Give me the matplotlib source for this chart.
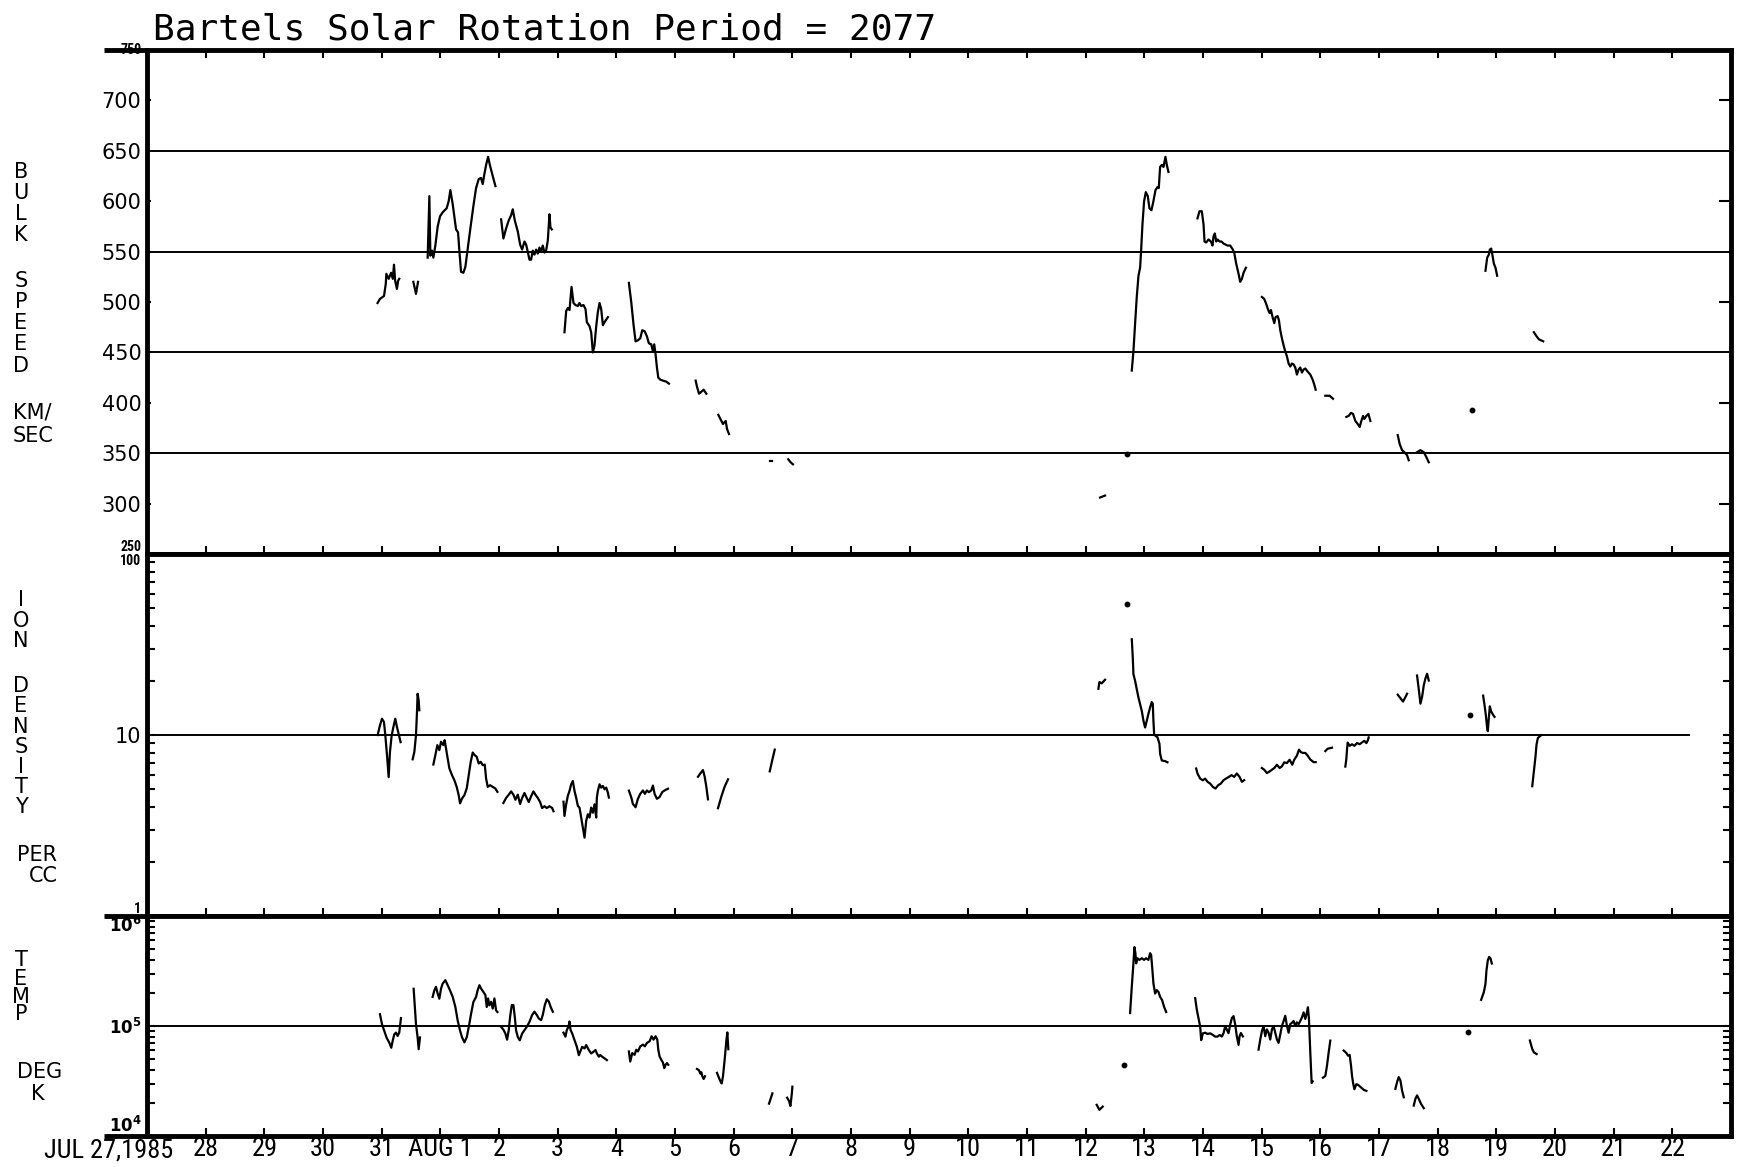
import numpy as np
import matplotlib
matplotlib.use("Agg")
import matplotlib.pyplot as plt
from matplotlib import font_manager as fm
from matplotlib.ticker import LogLocator, NullFormatter, FixedLocator
import matplotlib.transforms as mtransforms

# ---------------- DATA (days since 1985 Jul 27 00:00) ----------------
title = "Bartels Solar Rotation Period = 2077"
day_labels = ["", "28", "29", "30", "31", "AUG 1", "2", "3", "4", "5", "6", "7", "8",
              "9", "10", "11", "12", "13", "14", "15", "16", "17", "18", "19", "20",
              "21", "22", ""]
first_label = "JUL 27,1985"

speed_ref = [350, 450, 550, 650]
speed_ticks = [250, 300, 350, 400, 450, 500, 550, 600, 650, 700, 750]
speed_right_ticks = [300, 400, 500, 600, 700]
dens_ref = 10
temp_ref = 1e5

speed_days = [
    [3.93, 3.97, 4.04, 4.07, 4.08, 4.12, 4.16, 4.19, 4.21, 4.23, 4.26, 4.28, 4.30],
    [4.54, 4.585, 4.62],
    [4.784, 4.813, 4.830, 4.858, 4.881, 4.915, 4.955, 4.995, 5.040, 5.108, 5.142, 5.171, 5.211, 5.268, 5.302, 5.324,
     5.353, 5.393, 5.427, 5.467, 5.512, 5.563, 5.609, 5.654, 5.694, 5.722, 5.745, 5.780, 5.814, 5.848, 5.893, 5.939],
    [6.036, 6.075, 6.121, 6.166, 6.206, 6.235, 6.269, 6.320, 6.360, 6.394, 6.434, 6.462, 6.490, 6.519, 6.547, 6.576,
     6.604, 6.633, 6.661, 6.690, 6.718, 6.746, 6.775, 6.803, 6.832, 6.860, 6.877, 6.900],
    [7.116, 7.145, 7.173, 7.202, 7.236, 7.270, 7.304, 7.344, 7.372, 7.400, 7.440, 7.475, 7.497, 7.543, 7.571, 7.600,
     7.628, 7.657, 7.685, 7.714, 7.742, 7.771, 7.799, 7.856],
    [8.214, 8.254, 8.294, 8.328, 8.368, 8.408, 8.442, 8.482, 8.521, 8.555, 8.595, 8.624, 8.646, 8.669, 8.692, 8.715,
     8.749, 8.794, 8.851, 8.897],
    [9.352, 9.375, 9.409, 9.449, 9.489, 9.534],
    [9.739, 9.773, 9.818, 9.864, 9.887, 9.921],
    [10.62, 10.66],
    [10.93, 10.97, 11.01],
    [16.245, 16.33],
    [16.786, 16.814, 16.843, 16.871, 16.900, 16.928, 16.945, 16.968, 16.996, 17.025, 17.059, 17.087, 17.121, 17.155,
     17.190, 17.224, 17.246, 17.269, 17.298, 17.326, 17.360, 17.383, 17.411],
    [17.906, 17.940, 17.980, 18.009, 18.026, 18.054, 18.094, 18.134, 18.162, 18.179, 18.202, 18.225, 18.248, 18.282,
     18.316, 18.350, 18.384, 18.418, 18.464, 18.509, 18.532, 18.566, 18.606, 18.634, 18.663, 18.691, 18.731],
    [19.004, 19.044, 19.078, 19.106, 19.135, 19.158, 19.186, 19.215, 19.237, 19.272, 19.294, 19.317, 19.345, 19.374,
     19.402, 19.431, 19.459, 19.488, 19.516, 19.544, 19.573, 19.601, 19.630, 19.658, 19.687, 19.715, 19.744, 19.783,
     19.829, 19.869, 19.897, 19.920],
    [20.085, 20.159, 20.216],
    [20.443, 20.483, 20.523, 20.557, 20.597, 20.637, 20.671, 20.694, 20.728, 20.750, 20.785, 20.819, 20.853],
    [21.319, 21.353, 21.393, 21.433, 21.478, 21.507],
    [21.649, 21.706, 21.763, 21.808, 21.848],
    [22.815, 22.844, 22.872, 22.889, 22.912, 22.935, 22.958, 22.986, 23.014],
    [23.640, 23.686, 23.725, 23.799],
]
speed_kms = [
    [499, 503, 506, 518, 528, 523, 529, 523, 537, 521, 513, 521, 523],
    [520, 508, 520],
    [544, 605, 546, 551, 544, 556, 575, 585, 589, 593, 600, 611, 597, 572, 569, 551,
     530, 529, 535, 553, 573, 595, 613, 622, 623, 617, 625, 636, 644, 635, 625, 615],
    [582, 563, 573, 581, 586, 592, 581, 570, 557, 552, 560, 557, 550, 542, 542, 551,
     547, 552, 548, 554, 550, 556, 549, 551, 561, 587, 574, 572],
    [470, 491, 494, 492, 515, 499, 497, 496, 499, 496, 497, 493, 480, 476, 470, 450,
     457, 476, 490, 499, 493, 477, 480, 485],
    [519, 500, 477, 461, 462, 464, 472, 471, 466, 459, 458, 451, 458, 448, 435, 425,
     423, 422, 421, 419],
    [422, 416, 409, 411, 413, 409],
    [388, 384, 379, 382, 374, 369],
    [342, 342],
    [344, 341, 339],
    [306, 308],
    [432, 451, 479, 505, 526, 534, 551, 577, 600, 609, 605, 593, 591, 600,
     611, 614, 613, 634, 636, 634, 644, 636, 629],
    [583, 590, 590, 577, 560, 559, 562, 560, 556, 565, 568, 560, 562, 560,
     560, 558, 557, 556, 556, 552, 549, 538, 528, 520, 523, 529, 534],
    [505, 503, 498, 493, 489, 492, 485, 479, 485, 486, 482, 472, 464, 457,
     451, 446, 439, 436, 439, 438, 435, 428, 433, 435, 430, 433, 434, 431,
     428, 423, 418, 413],
    [407, 407, 404],
    [386, 387, 390, 389, 382, 379, 376, 381, 387, 384, 387, 389, 382],
    [368, 359, 353, 351, 348, 343],
    [351, 353, 351, 346, 341],
    [531, 544, 547, 552, 553, 546, 538, 534, 526],
    [470, 466, 463, 461],
]
speed_dot_days = [16.70, 22.588]
speed_dot_kms = [349, 393]

dens_days = [
    [3.931, 3.971, 4.005, 4.039, 4.062, 4.096, 4.119, 4.141, 4.170, 4.198, 4.232, 4.261, 4.289, 4.323],
    [4.528, 4.557, 4.585, 4.602, 4.613, 4.630, 4.642],
    [4.881, 4.915, 4.949, 4.983, 5.012, 5.051, 5.074, 5.097, 5.125, 5.154, 5.199, 5.239, 5.279, 5.313, 5.336, 5.370,
     5.410, 5.450, 5.484, 5.518, 5.552, 5.586, 5.620, 5.654, 5.689, 5.723, 5.757, 5.780, 5.808, 5.848, 5.893, 5.939, 5.973],
    [6.075, 6.121, 6.166, 6.206, 6.246, 6.280, 6.320, 6.360, 6.394, 6.434, 6.473, 6.507, 6.547, 6.587, 6.621, 6.661,
     6.701, 6.735, 6.775, 6.815, 6.860, 6.906, 6.929],
    [7.099, 7.116, 7.145, 7.173, 7.202, 7.230, 7.259, 7.287, 7.315, 7.344, 7.372, 7.401, 7.429, 7.458, 7.486, 7.514,
     7.543, 7.571, 7.600, 7.628, 7.657, 7.668, 7.685, 7.714, 7.742, 7.771, 7.799, 7.828, 7.856, 7.873],
    [8.214, 8.254, 8.282, 8.328, 8.368, 8.408, 8.453, 8.487, 8.521, 8.555, 8.595, 8.624, 8.652, 8.692, 8.737, 8.783,
     8.823, 8.880],
    [9.392, 9.431, 9.477, 9.506, 9.534, 9.562],
    [9.733, 9.790, 9.847, 9.904],
    [10.615, 10.660, 10.700],
    [16.217, 16.234, 16.274, 16.331],
    [16.786, 16.803, 16.814, 16.843, 16.871, 16.900, 16.928, 16.956, 16.985, 17.013, 17.042, 17.070, 17.098, 17.127,
     17.144, 17.155, 17.167, 17.184, 17.224, 17.258, 17.269, 17.298, 17.355, 17.394],
    [17.884, 17.906, 17.952, 17.997, 18.037, 18.077, 18.122, 18.168, 18.213, 18.259, 18.304, 18.350, 18.395, 18.441,
     18.486, 18.532, 18.577, 18.623, 18.663, 18.702],
    [19.004, 19.044, 19.089, 19.135, 19.175, 19.215, 19.260, 19.306, 19.345, 19.385, 19.431, 19.476, 19.522, 19.556,
     19.601, 19.636, 19.670, 19.704, 19.744, 19.783, 19.829, 19.886, 19.920],
    [20.085, 20.125, 20.199],
    [20.426, 20.443, 20.455, 20.466, 20.500, 20.540, 20.580, 20.625, 20.671, 20.711, 20.750, 20.785, 20.807, 20.824],
    [21.319, 21.376, 21.410, 21.450, 21.478],
    [21.649, 21.677, 21.706, 21.734, 21.763, 21.791, 21.820, 21.848],
    [22.775, 22.798, 22.821, 22.844, 22.855, 22.872, 22.889, 22.912, 22.946, 22.969],
    [23.612, 23.640, 23.668, 23.685, 23.708, 23.742, 23.765],
]
dens_cc = [
    [10.0, 11.3, 12.3, 11.8, 10.0, 7.38, 5.85, 8.04, 9.93, 11.0, 12.3, 11.05, 10.15, 9.13],
    [7.34, 8.06, 9.96, 13.4, 16.9, 15.6, 13.7],
    [6.87, 7.74, 8.79, 8.25, 9.18, 8.79, 9.37, 8.43, 7.42, 6.54, 6.0, 5.63, 5.17, 4.65, 4.19, 4.46,
     4.65, 5.07, 6.0, 7.11, 8.0, 7.74, 7.58, 6.96, 7.11, 6.81, 6.87, 5.75, 5.17, 5.28, 5.17, 5.06, 4.85],
    [4.21, 4.49, 4.68, 4.88, 4.68, 4.39, 4.68, 4.16, 4.49, 4.78, 4.49, 4.26, 4.58, 4.88, 4.68, 4.49,
     4.26, 3.95, 4.04, 3.95, 4.04, 3.95, 3.79],
    [4.28, 3.57, 4.14, 4.61, 4.91, 5.34, 5.57, 4.91, 4.51, 4.06, 3.97, 3.50, 3.08, 2.71, 3.35, 3.65,
     3.50, 3.97, 3.72, 4.14, 3.50, 4.51, 4.91, 5.34, 5.12, 5.23, 5.01, 5.12, 4.80, 4.51],
    [4.93, 4.53, 4.16, 3.99, 4.44, 4.73, 4.94, 4.73, 4.94, 4.83, 4.94, 5.26, 4.73, 4.44, 4.54, 4.84,
     4.94, 5.05],
    [5.88, 6.13, 6.40, 5.88, 5.18, 4.41],
    [3.94, 4.57, 5.19, 5.69],
    [6.30, 7.31, 8.30],
    [18.0, 19.6, 19.3, 20.2],
    [33.8, 26.8, 21.7, 19.9, 17.9, 16.1, 14.8, 13.6, 12.0, 11.0, 12.0, 13.1, 14.2, 15.2,
     14.9, 12.0, 10.1, 9.93, 9.72, 8.93, 7.87, 7.23, 7.17, 7.07],
    [6.53, 6.12, 5.74, 5.62, 5.74, 5.51, 5.39, 5.17, 5.06, 5.28, 5.39, 5.63, 5.75, 5.87,
     6.0, 5.87, 6.13, 5.87, 5.51, 5.63],
    [6.57, 6.43, 6.16, 6.29, 6.43, 6.57, 6.85, 6.57, 6.71, 7.06, 7.0, 7.30, 6.85, 7.31,
     7.69, 8.30, 8.03, 7.96, 7.96, 7.70, 7.32, 7.08, 7.08],
    [8.15, 8.40, 8.51],
    [6.69, 7.35, 8.34, 9.08, 8.71, 8.89, 8.71, 9.02, 8.90, 9.10, 9.29, 9.02, 9.30, 9.70],
    [16.7, 15.8, 15.3, 16.2, 16.9],
    [21.3, 18.0, 14.9, 16.2, 18.8, 20.5, 21.8, 20.0],
    [16.5, 14.7, 12.9, 10.9, 10.5, 12.4, 14.4, 13.5, 12.9, 12.6],
    [5.21, 6.30, 7.63, 8.85, 9.63, 9.84, 9.97],
]
dens_dot_days = [16.70, 22.559]
dens_dot_cc = [53.0, 12.9]

temp_days = [
    [3.971, 4.005, 4.045, 4.084, 4.130, 4.164, 4.187, 4.215, 4.244, 4.272, 4.300, 4.329],
    [4.545, 4.585, 4.613, 4.631, 4.653],
    [4.869, 4.898, 4.926, 4.955, 4.983, 5.012, 5.040, 5.086, 5.125, 5.165, 5.211, 5.256, 5.296, 5.336, 5.370, 5.410,
     5.450, 5.484, 5.524, 5.563, 5.609, 5.637, 5.666, 5.694, 5.734, 5.768, 5.791, 5.814, 5.836, 5.865, 5.893, 5.922,
     5.950, 5.973],
    [6.036, 6.075, 6.109, 6.138, 6.166, 6.189, 6.218, 6.246, 6.269, 6.291, 6.320, 6.354, 6.394, 6.434, 6.473, 6.519,
     6.565, 6.604, 6.644, 6.678, 6.718, 6.746, 6.781, 6.815, 6.849, 6.883, 6.917],
    [7.099, 7.133, 7.156, 7.185, 7.202, 7.219, 7.247, 7.287, 7.327, 7.361, 7.384, 7.418, 7.458, 7.486, 7.532, 7.571,
     7.611, 7.645, 7.668, 7.702, 7.725, 7.759, 7.799, 7.839],
    [8.214, 8.237, 8.271, 8.311, 8.339, 8.368, 8.408, 8.453, 8.487, 8.521, 8.567, 8.601, 8.635, 8.669, 8.698, 8.715,
     8.737, 8.766, 8.794, 8.817, 8.840, 8.863, 8.885],
    [9.375, 9.409, 9.431, 9.449, 9.466, 9.489, 9.511],
    [9.716, 9.750, 9.773, 9.796, 9.818, 9.847, 9.875, 9.892, 9.909],
    [10.603, 10.660],
    [10.911, 10.944, 10.967, 10.990, 11.001],
    [16.188, 16.234, 16.291],
    [16.757, 16.786, 16.814, 16.831, 16.848, 16.860, 16.882, 16.916, 16.956, 16.996, 17.030, 17.070, 17.098, 17.116,
     17.133, 17.155, 17.184, 17.212, 17.241, 17.269, 17.303, 17.337, 17.372],
    [17.867, 17.895, 17.923, 17.952, 17.969, 17.997, 18.037, 18.077, 18.122, 18.168, 18.208, 18.248, 18.282, 18.322,
     18.350, 18.378, 18.407, 18.435, 18.464, 18.492, 18.521, 18.549, 18.577, 18.606, 18.623, 18.646, 18.680],
    [18.947, 18.976, 19.004, 19.033, 19.061, 19.089, 19.118, 19.146, 19.175, 19.203, 19.232, 19.260, 19.288, 19.317,
     19.345, 19.374, 19.402, 19.431, 19.459, 19.488, 19.516, 19.544, 19.573, 19.601, 19.630, 19.658, 19.687, 19.715,
     19.744, 19.772, 19.789, 19.806, 19.829, 19.852, 19.869],
    [20.045, 20.085, 20.113, 20.142, 20.170],
    [20.398, 20.443, 20.472, 20.500, 20.523, 20.540, 20.557, 20.580, 20.614, 20.654, 20.694, 20.739, 20.785],
    [21.279, 21.308, 21.336, 21.365, 21.393, 21.422],
    [21.592, 21.621, 21.649, 21.677, 21.717, 21.763],
    [22.741, 22.787, 22.815, 22.832, 22.855, 22.878, 22.901, 22.923],
    [23.572, 23.612, 23.640, 23.686],
]
temp_1e4K = [
    [12.8, 10.4, 9.0, 7.83, 7.05, 6.34, 7.30, 8.40, 8.71, 8.12, 8.72, 11.8],
    [21.8, 10.4, 7.87, 6.15, 7.87],
    [18.4, 21.1, 22.7, 19.7, 17.7, 21.9, 24.3, 26.1, 23.5, 21.1, 18.4, 14.9, 11.2, 9.09, 7.89, 7.10,
     7.89, 9.75, 12.9, 16.5, 18.4, 21.2, 23.5, 21.9, 20.4, 19.1, 14.9, 17.8, 15.4, 16.6, 14.4, 17.8,
     13.9, 13.4],
    [9.81, 9.28, 8.53, 7.51, 9.15, 12.1, 15.5, 15.5, 12.1, 9.15, 7.95, 7.41, 8.53, 9.16, 9.82, 10.9,
     12.6, 13.5, 12.6, 11.7, 11.3, 12.6, 15.5, 17.5, 16.7, 14.8, 13.5],
    [8.70, 8.0, 9.2, 9.88, 11.0, 9.21, 8.58, 7.45, 6.47, 5.43, 5.83, 6.47, 6.25, 6.71, 6.04, 5.63,
     5.84, 6.05, 5.64, 5.26, 5.45, 5.26, 5.08, 4.90],
    [5.87, 4.75, 5.67, 5.47, 6.08, 5.87, 6.52, 6.77, 6.53, 7.01, 7.26, 8.07, 7.52, 8.07, 7.52, 6.09,
     5.29, 4.93, 4.66, 4.14, 4.44, 4.60, 4.44],
    [4.07, 3.96, 3.69, 3.80, 3.49, 3.30, 3.49],
    [3.75, 3.37, 3.15, 3.0, 3.50, 4.97, 7.33, 8.74, 6.15],
    [1.97, 2.44],
    [2.23, 2.08, 1.87, 2.39, 2.81],
    [1.92, 1.73, 1.85],
    [13.1, 22.7, 37.1, 52.1, 45.9, 37.1, 41.3, 39.9, 41.3, 39.9, 41.3, 39.9, 45.9, 44.3,
     34.6, 24.4, 19.7, 21.2, 20.4, 18.4, 17.2, 14.9, 13.4],
    [17.9, 14.0, 11.8, 9.86, 7.44, 8.57, 8.70, 8.46, 8.58, 8.29, 8.01, 8.01, 8.30, 8.02,
     8.61, 9.91, 9.24, 8.61, 10.3, 11.8, 12.3, 10.3, 8.03, 6.74, 8.04, 8.63, 8.04],
    [6.10, 7.53, 8.98, 9.98, 8.08, 9.31, 8.68, 7.54, 9.31, 9.99, 8.68, 7.54, 7.03, 8.38,
     10.0, 11.1, 12.4, 10.0, 8.69, 10.4, 10.7, 11.1, 10.0, 10.8, 10.4, 11.1, 12.0, 13.3,
     11.6, 13.3, 14.8, 11.6, 5.72, 3.03, 3.14],
    [3.39, 3.51, 4.34, 5.75, 7.36],
    [5.98, 5.69, 5.38, 5.46, 4.36, 3.53, 3.06, 2.66, 2.96, 2.89, 2.76, 2.63, 2.57],
    [2.68, 3.09, 3.43, 3.20, 2.59, 2.25],
    [1.89, 2.18, 2.34, 2.18, 1.96, 1.79],
    [17.3, 20.3, 24.2, 32.1, 39.6, 42.5, 41.1, 37.0],
    [7.38, 6.19, 5.76, 5.56],
]
temp_dot_days = [16.66, 22.514]
temp_dot_1e4K = [4.43, 8.88]

# ---------------- FONTS ----------------
avail = {f.name for f in fm.fontManager.ttflist}
narrow = None
for n in ["Roboto Condensed", "Liberation Sans Narrow", "Open Sans Condensed",
          "Noto Sans Condensed", "DejaVu Sans Condensed"]:
    if n in avail:
        narrow = n
        break
if narrow:
    xfp = fm.FontProperties(family=narrow, size=19)
else:
    xfp = fm.FontProperties(family="DejaVu Sans", stretch="condensed", size=16)
yfp = fm.FontProperties(family="DejaVu Sans", size=15)
small_fp = fm.FontProperties(family=narrow if narrow else "DejaVu Sans", size=10, weight="bold")
lab_fp = fm.FontProperties(family="DejaVu Sans", size=15)

# ---------------- LAYOUT ----------------
W, H = 1744, 1167
fig = plt.figure(figsize=(W / 100, H / 100), dpi=100)
fig.patch.set_facecolor("white")

def fx(px):
    return px / W

def fy(py):
    return 1 - py / H

L, R = 147, 1731
y_top, y_s, y_d, y_b = 50, 554, 916, 1136
ax1 = fig.add_axes([fx(L), fy(y_s), (R - L) / W, (y_s - y_top) / H])
ax2 = fig.add_axes([fx(L), fy(y_d), (R - L) / W, (y_d - y_s) / H])
ax3 = fig.add_axes([fx(L), fy(y_b), (R - L) / W, (y_b - y_d) / H])

LW = 1.6
SPW = 3.5
for ax in (ax1, ax2, ax3):
    ax.set_xlim(0, 27)
    for sp in ax.spines.values():
        sp.set_linewidth(SPW)
    ax.set_xticks(range(0, 28))
    ax.tick_params(axis="x", which="both", direction="in", length=6, width=1.5,
                   bottom=True, top=False, labelbottom=False)
ax1.tick_params(axis="x", top=True)

# ---- speed panel ----
ax1.set_ylim(250, 750)
for v in speed_ref:
    ax1.axhline(v, color="black", lw=1.4)
for d, v in zip(speed_days, speed_kms):
    ax1.plot(d, v, color="black", lw=LW)
ax1.plot(speed_dot_days, speed_dot_kms, "o", color="black", ms=3.2, ls="none")
ax1.set_yticks(speed_ticks)
ax1.set_yticklabels([str(t) for t in speed_ticks])
ax1.tick_params(axis="y", direction="in", length=3, width=1.5, pad=4, left=True, right=False)
for lab, t in zip(ax1.get_yticklabels(), speed_ticks):
    if t in (250, 750):
        lab.set_fontproperties(small_fp)
        lab.set_va("bottom" if t == 250 else "center")
    else:
        lab.set_fontproperties(yfp)
ax1r = ax1.twinx()
ax1r.set_ylim(250, 750)
ax1r.set_frame_on(False)
ax1r.set_yticks(speed_right_ticks)
ax1r.set_yticklabels([])
ax1r.tick_params(axis="y", direction="in", length=9, width=1.5)

# ---- density panel ----
ax2.set_yscale("log")
ax2.set_ylim(1, 100)
ax2.hlines(dens_ref, 0, 26.3, color="black", lw=1.4)
for d, v in zip(dens_days, dens_cc):
    ax2.plot(d, v, color="black", lw=LW)
ax2.plot(dens_dot_days, dens_dot_cc, "o", color="black", ms=3.2, ls="none")
ax2.yaxis.set_major_locator(FixedLocator([1, 10, 100]))
ax2.yaxis.set_minor_locator(LogLocator(base=10, subs=range(2, 10)))
ax2.yaxis.set_minor_formatter(NullFormatter())
ax2.set_yticklabels(["1", "10", "100"])
ax2.tick_params(axis="y", which="both", direction="in", length=6, width=1.5, pad=4,
                left=True, right=True)
labs = ax2.get_yticklabels()
labs[0].set_fontproperties(small_fp); labs[0].set_va("bottom")
labs[1].set_fontproperties(yfp)
labs[2].set_fontproperties(small_fp); labs[2].set_va("top")

# ---- temperature panel ----
ax3.set_yscale("log")
ax3.set_ylim(1e4, 1e6)
ax3.axhline(temp_ref, color="black", lw=1.4)
for d, v in zip(temp_days, temp_1e4K):
    ax3.plot(d, np.array(v) * 1e4, color="black", lw=LW)
ax3.plot(temp_dot_days, np.array(temp_dot_1e4K) * 1e4, "o", color="black", ms=3.2, ls="none")
ax3.yaxis.set_major_locator(FixedLocator([1e4, 1e5, 1e6]))
ax3.yaxis.set_minor_locator(LogLocator(base=10, subs=range(2, 10)))
ax3.yaxis.set_minor_formatter(NullFormatter())
ax3.set_yticklabels([r"$\mathregular{10^{4}}$", r"$\mathregular{10^{5}}$", r"$\mathregular{10^{6}}$"])
ax3.tick_params(axis="y", which="both", direction="in", length=6, width=1.5, pad=4,
                left=True, right=True)
tl = ax3.get_yticklabels()
for lab in tl:
    lab.set_fontproperties(fm.FontProperties(family="DejaVu Sans", size=12, weight="bold"))
tl[0].set_va("bottom")
tl[2].set_va("top")

ax3.tick_params(axis="x", labelbottom=True, pad=1)
ax3.set_xticklabels(day_labels)
for lab in ax3.get_xticklabels():
    lab.set_fontproperties(xfp)
ax3.text(0.45, -0.01, first_label, transform=mtransforms.blended_transform_factory(ax3.transData, ax3.transAxes),
         ha="right", va="top", fontproperties=xfp)

# left extensions of some frame lines
for ax, yy in ((ax1, 1), (ax3, 1), (ax3, 0)):
    ax.plot([-0.027, 0], [yy, yy], transform=ax.transAxes, color="black", lw=SPW, clip_on=False,
            solid_capstyle="butt")

# ---------------- TEXT ----------------
fig.text(fx(153), fy(39), title, family="DejaVu Sans Mono", fontsize=26, va="baseline", ha="left")

stacked = [
    ("B", 172), ("U", 193), ("L", 214), ("K", 235),
    ("S", 281), ("P", 302), ("E", 323), ("E", 344), ("D", 366),
    ("I", 600), ("O", 621), ("N", 641),
    ("D", 686), ("E", 706), ("N", 727), ("S", 747), ("I", 767), ("T", 787), ("Y", 807),
    ("T", 960), ("E", 979), ("M", 997), ("P", 1014),
]
for ch, yy in stacked:
    fig.text(fx(21), fy(yy), ch, fontproperties=lab_fp, ha="center", va="center")
for txt, xx, yy, ha in [("KM/", 13, 413, "left"), ("SEC", 13, 436, "left"),
                        ("PER", 17, 855, "left"), ("CC", 58, 876, "right"),
                        ("DEG", 17, 1072, "left"), ("K", 38, 1094, "center")]:
    fig.text(fx(xx), fy(yy), txt, fontproperties=lab_fp, ha=ha, va="center")

fig.savefig("out.png", dpi=100, facecolor="white")
